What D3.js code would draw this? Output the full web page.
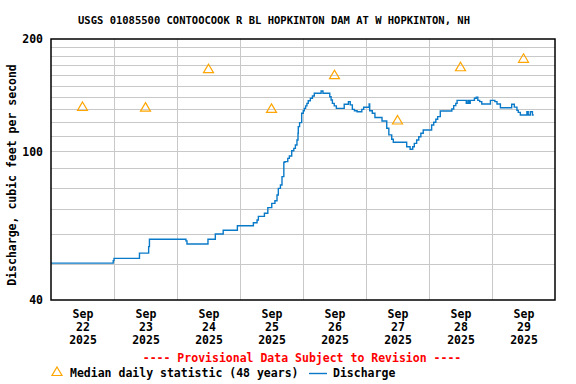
<!DOCTYPE html>
<html>
<head>
<meta charset="utf-8">
<script src="https://cdn.jsdelivr.net/npm/d3@7"></script>
<style>
  body { margin: 0; background: #fff; }
  text { font-family: "DejaVu Sans Mono", monospace; font-weight: bold; }
</style>
</head>
<body>
<div id="chart"></div>
<script>
// day labels for the x axis
var dayLabels = ["22", "23", "24", "25", "26", "27", "28", "29"];
// median daily statistic (48 years), one per day
var medianValues = [131.5, 131, 166, 130, 160, 121, 168, 177];
// discharge readings: hours since Sep 22 00:00 and value (cfs), step changes
var flowHours = [0, 23.7, 24.0, 33.7, 37.2, 37.5, 51.4, 51.8, 59.8, 62.6, 65.6, 71.0, 77.1, 78.5, 79.0,
  81.3, 82.6, 84.1, 85.3, 86.1, 86.6, 87.4, 88.0, 88.7, 89.1, 90.2, 90.8, 91.7, 92.5, 93.1, 93.7,
  94.1, 94.2, 94.7, 95.5, 96.1, 96.5, 97.0, 97.5, 98.0, 98.8, 99.6, 100.3, 102.9, 103.6, 106.2,
  106.7, 107.2, 107.9, 108.7, 111.7, 113.3, 114.0, 114.8, 115.6, 116.6, 118.4, 119.1, 121.2, 121.4,
  122.4, 123.4, 126.1, 127.9, 128.7, 129.8, 130.4, 135.5, 136.8, 137.8, 138.4, 139.3, 140.1, 140.9,
  141.8, 145.0, 145.8, 146.6, 147.3, 148.3, 152.7, 153.4, 154.2, 154.7, 158.2, 158.8, 159.2, 159.7,
  161.3, 162.0, 162.6, 163.3, 164.1, 167.4, 169.1, 169.9, 171.2, 175.5, 176.5, 177.5, 178.0, 178.8,
  181.3, 181.8, 182.6, 183.4, 183.9];
var flowValues = [50.2, 51.0, 51.7, 53.4, 55.6, 58.2, 57.6, 56.5, 58.2, 60.1, 61.5, 63.2, 64.4, 65.5, 67.0,
  68.3, 70.7, 72.6, 73.8, 76.4, 79.6, 81.3, 85.6, 93.5, 93.9, 95.8, 97.2, 100.4, 101.9, 104.0, 107.3,
  111.8, 116.5, 119.4, 126.5, 128.5, 130.4, 132.4, 134.5, 136.7, 138.8, 140.7, 143.1, 145.1, 143.1, 140.1,
  137.3, 134.5, 132.4, 130.4, 133.7, 135.9, 133.2, 129.6, 128.5, 127.7, 129.6, 131.3, 134.0, 128.5,
  126.5, 123.3, 120.6, 115.3, 110.7, 107.8, 105.8, 102.9, 101.3, 102.9, 105.1, 107.3, 109.5, 111.8,
  114.1, 117.7, 119.7, 121.9, 123.9, 128.3, 129.9, 132.6, 134.5, 137.0, 134.5, 137.0, 134.5, 137.0,
  138.8, 139.6, 137.0, 135.9, 134.0, 137.0, 135.9, 134.0, 130.9, 133.7, 131.4, 128.8, 127.2, 125.2,
  127.7, 125.2, 127.7, 125.2, 125.2];
// y axis
var yLabelTicks = [40, 100, 200];
var yGridTicks = [50, 60, 70, 80, 90, 100, 110, 120, 130, 140, 150, 160, 170, 180, 190];

var start = new Date(2025, 8, 22);
function hoursToDate(h) { return new Date(start.getTime() + h * 3600 * 1000); }

var margin = {top: 39, right: 21, bottom: 84, left: 51},
    width = 576 - margin.left - margin.right,
    height = 384 - margin.top - margin.bottom;

var svg = d3.select("#chart").append("svg")
    .attr("width", 576)
    .attr("height", 384);

var g = svg.append("g")
    .attr("transform", "translate(" + margin.left + "," + margin.top + ")");

var x = d3.scaleTime()
    .domain([start, hoursToDate(8 * 24)])
    .range([0, width]);
var y = d3.scaleLog()
    .domain([40, 200])
    .range([height, 0]);

// grid lines
g.append("g").selectAll("line")
    .data(yGridTicks)
  .enter().append("line")
    .attr("x1", 0).attr("x2", width)
    .attr("y1", d => Math.round(y(d)) + 0.5).attr("y2", d => Math.round(y(d)) + 0.5)
    .attr("stroke", "#c8c8c8");
g.append("g").selectAll("line")
    .data(d3.range(1, 8))
  .enter().append("line")
    .attr("x1", d => Math.round(x(hoursToDate(d * 24))) + 0.5)
    .attr("x2", d => Math.round(x(hoursToDate(d * 24))) + 0.5)
    .attr("y1", 0).attr("y2", height)
    .attr("stroke", "#c8c8c8");

// discharge line
var flow = flowHours.map((h, i) => ({t: hoursToDate(h), v: flowValues[i]}));
g.append("path")
    .datum(flow)
    .attr("fill", "none")
    .attr("stroke", "#0a7ac8")
    .attr("stroke-width", 1.4)
    .attr("d", d3.line().x(d => x(d.t)).y(d => y(d.v)).curve(d3.curveStepAfter));

// median triangles
var tri = "M0,-5L5,3.5L-5,3.5Z";
g.selectAll(".median")
    .data(medianValues)
  .enter().append("path")
    .attr("class", "median")
    .attr("transform", (d, i) => "translate(" + x(hoursToDate(i * 24 + 12)) + "," + y(d) + ")")
    .attr("d", tri)
    .attr("fill", "none")
    .attr("stroke", "#ffa500")
    .attr("stroke-width", 1.2);

// border
g.append("rect")
    .attr("x", 0).attr("y", 0)
    .attr("width", width).attr("height", height)
    .attr("fill", "none")
    .attr("stroke", "#000")
    .attr("stroke-width", 1.5);

// y axis labels
var yAxis = g.append("g")
    .call(d3.axisLeft(y).tickValues(yLabelTicks).tickSize(0).tickPadding(8).tickFormat(d3.format("d")));
yAxis.select(".domain").remove();
yAxis.selectAll("text")
    .style("font-family", "DejaVu Sans Mono")
    .style("font-weight", "bold")
    .style("font-size", "11.5px")
    .attr("fill", "#000");

// x axis labels, three lines each
var xAxis = g.append("g")
    .attr("transform", "translate(0," + height + ")")
    .call(d3.axisBottom(x).tickValues(d3.range(8).map(i => hoursToDate(i * 24 + 12))).tickSize(0).tickFormat(""));
xAxis.select(".domain").remove();
xAxis.selectAll(".tick text").each(function(d, i) {
  var t = d3.select(this).attr("y", 0).attr("dy", null)
      .style("font-family", "DejaVu Sans Mono")
      .style("font-weight", "bold")
      .style("font-size", "11.5px")
      .attr("fill", "#000");
  ["Sep", dayLabels[i], "2025"].forEach(function(s, k) {
    t.append("tspan").attr("x", 0).attr("y", 18 + k * 13).text(s);
  });
});

// title
svg.append("text")
    .attr("x", 274).attr("y", 24)
    .attr("text-anchor", "middle")
    .style("font-size", "10.5px")
    .text("USGS 01085500 CONTOOCOOK R BL HOPKINTON DAM AT W HOPKINTON, NH");

// y axis title
svg.append("text")
    .attr("transform", "translate(16,175) rotate(-90)")
    .attr("text-anchor", "middle")
    .style("font-size", "11.5px")
    .text("Discharge, cubic feet per second");

// provisional note
svg.append("text")
    .attr("x", 302).attr("y", 362)
    .attr("text-anchor", "middle")
    .attr("fill", "#ff0000")
    .style("font-size", "11.5px")
    .text("---- Provisional Data Subject to Revision ----");

// legend
svg.append("path")
    .attr("transform", "translate(57,372)")
    .attr("d", tri)
    .attr("fill", "none")
    .attr("stroke", "#ffa500")
    .attr("stroke-width", 1.2);
svg.append("text")
    .attr("x", 70).attr("y", 377)
    .style("font-size", "11.5px")
    .text("Median daily statistic (48 years)");
svg.append("line")
    .attr("x1", 309).attr("x2", 327)
    .attr("y1", 373.5).attr("y2", 373.5)
    .attr("stroke", "#0a7ac8")
    .attr("stroke-width", 1.4);
svg.append("text")
    .attr("x", 333).attr("y", 377)
    .style("font-size", "11.5px")
    .text("Discharge");
</script>
</body>
</html>
